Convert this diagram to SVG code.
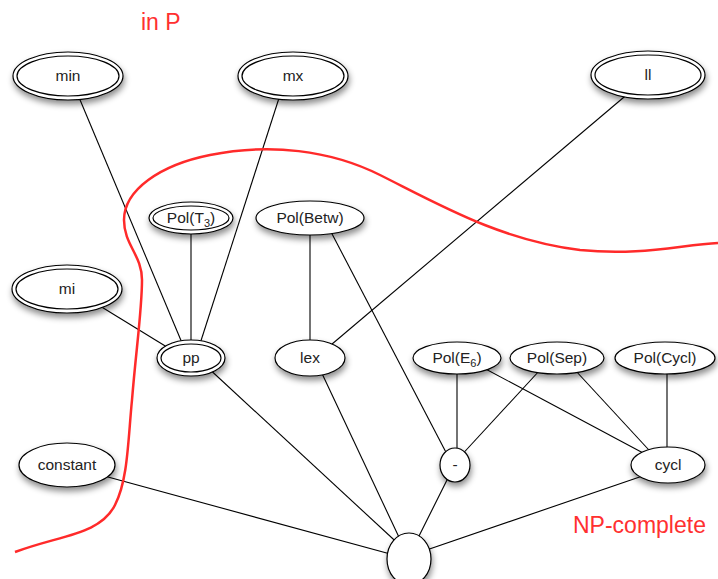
<svg xmlns="http://www.w3.org/2000/svg" width="718" height="579" viewBox="0 0 718 579">
<defs>
<filter id="sh" x="-30%" y="-30%" width="160%" height="180%">
<feDropShadow dx="1" dy="4" stdDeviation="3" flood-color="#000" flood-opacity="0.45"/>
</filter>
</defs>
<style>
.n ellipse{fill:#fff;stroke:#000;stroke-width:1.2}
.t{font-family:"Liberation Sans",Arial,sans-serif;font-size:15.5px;fill:#222;text-anchor:middle}
.sub{font-size:11px}
.e line{stroke:#000;stroke-width:1.1}
.red{font-family:"Liberation Sans",Arial,sans-serif;font-size:23px;fill:#ff3030}
</style>
<rect width="718" height="579" fill="#fff"/>
<g class="e" id="connectors">
<line x1="78" y1="95" x2="185" y2="350"/>
<line x1="280" y1="95" x2="198" y2="350"/>
<line x1="191" y1="225" x2="191" y2="350"/>
<line x1="100" y1="306" x2="175" y2="352"/>
<line x1="630" y1="92" x2="325" y2="350"/>
<line x1="310" y1="225" x2="310" y2="350"/>
<line x1="330" y1="230" x2="450" y2="460"/>
<line x1="457" y1="360" x2="457" y2="460"/>
<line x1="540" y1="370" x2="457" y2="460"/>
<line x1="480" y1="366" x2="660" y2="462"/>
<line x1="575" y1="370" x2="660" y2="462"/>
<line x1="667" y1="365" x2="667" y2="462"/>
<line x1="205" y1="365" x2="405" y2="550"/>
<line x1="318" y1="365" x2="405" y2="550"/>
<line x1="452" y1="470" x2="412" y2="550"/>
<line x1="660" y1="470" x2="412" y2="555"/>
<line x1="75" y1="468" x2="405" y2="558"/>
</g>
<g class="n" id="min"><ellipse filter="url(#sh)" cx="68" cy="76" rx="55" ry="24"/><ellipse cx="68" cy="76" rx="51" ry="20"/><text class="t" x="68" y="81">min</text></g>
<g class="n" id="mx"><ellipse filter="url(#sh)" cx="293" cy="76" rx="55" ry="24"/><ellipse cx="293" cy="76" rx="51" ry="20"/><text class="t" x="293" y="81">mx</text></g>
<g class="n" id="ll"><ellipse filter="url(#sh)" cx="648" cy="75" rx="57" ry="24"/><ellipse cx="648" cy="75" rx="53" ry="20"/><text class="t" x="648" y="80">ll</text></g>
<g class="n" id="mi"><ellipse filter="url(#sh)" cx="67" cy="289" rx="55" ry="24"/><ellipse cx="67" cy="289" rx="51" ry="20"/><text class="t" x="67" y="294">mi</text></g>
<g class="n" id="polT3"><ellipse filter="url(#sh)" cx="191" cy="218" rx="42" ry="16"/><ellipse cx="191" cy="218" rx="38" ry="12"/><text class="t" x="191" y="223">Pol(T<tspan class="sub" dy="4">3</tspan><tspan dy="-4">)</tspan></text></g>
<g class="n" id="polBetw"><ellipse filter="url(#sh)" cx="310" cy="218" rx="54" ry="17"/><text class="t" x="310" y="223">Pol(Betw)</text></g>
<g class="n" id="pp"><ellipse filter="url(#sh)" cx="191" cy="358" rx="34" ry="18"/><ellipse cx="191" cy="358" rx="30" ry="14"/><text class="t" x="191" y="363">pp</text></g>
<g class="n" id="lex"><ellipse filter="url(#sh)" cx="310" cy="358" rx="35" ry="18"/><text class="t" x="310" y="363">lex</text></g>
<g class="n" id="polE6"><ellipse filter="url(#sh)" cx="457" cy="358" rx="44" ry="16"/><text class="t" x="457" y="363">Pol(E<tspan class="sub" dy="4">6</tspan><tspan dy="-4">)</tspan></text></g>
<g class="n" id="polSep"><ellipse filter="url(#sh)" cx="557" cy="358" rx="47" ry="16"/><text class="t" x="557" y="363">Pol(Sep)</text></g>
<g class="n" id="polCycl"><ellipse filter="url(#sh)" cx="665" cy="358" rx="50" ry="16"/><text class="t" x="665" y="363">Pol(Cycl)</text></g>
<g class="n" id="constant"><ellipse filter="url(#sh)" cx="67" cy="465" rx="48" ry="22"/><text class="t" x="67" y="470">constant</text></g>
<g class="n" id="minus"><ellipse filter="url(#sh)" cx="455" cy="465" rx="15" ry="17"/><text class="t" x="455" y="470">-</text></g>
<g class="n" id="cycl"><ellipse filter="url(#sh)" cx="668" cy="465" rx="37" ry="18"/><text class="t" x="668" y="470">cycl</text></g>
<g class="n" id="bottom"><ellipse filter="url(#sh)" cx="409" cy="559" rx="22" ry="26"/></g>
<path d="M15,552 C60,535 100,535 115,505 C128,480 128,440 132,400 C136,350 142,310 142,280 C142,255 124,245 124,220 C124,190 160,165 210,155 C270,143 330,150 380,175 C440,205 500,240 580,250 C640,256 680,245 718,243" fill="none" stroke="#ff2a2a" stroke-width="2.5"/>
<text class="red" x="141" y="30">in P</text>
<text class="red" x="573" y="533">NP-complete</text>
</svg>
